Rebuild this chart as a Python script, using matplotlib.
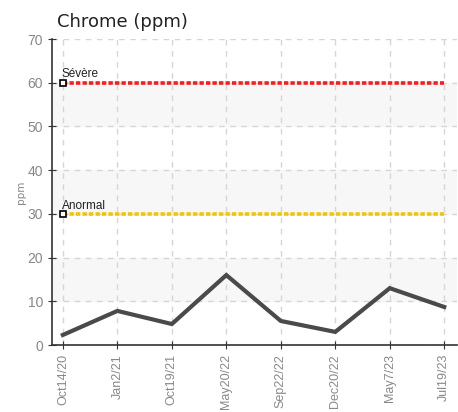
import matplotlib
matplotlib.use("Agg")
import matplotlib.pyplot as plt

dates = ["Oct14/20", "Jan2/21", "Oct19/21", "May20/22", "Sep22/22", "Dec20/22", "May7/23", "Jul19/23"]
chrome = [2.3, 7.8, 4.8, 16.0, 5.5, 3.0, 13.0, 8.7]
severe_level = 60
abnormal_level = 30

narrow = "Liberation Sans"

fig = plt.figure(figsize=(4.58, 4.12), dpi=100)
ax = fig.add_axes([0.1135, 0.1626, 0.885, 0.7427])

x = list(range(len(dates)))
ax.set_xlim(-0.2, len(dates) - 1 + 0.24)
ax.set_ylim(0, 70)

# alternating bands
for lo in range(10, 70, 20):
    ax.axhspan(lo, lo + 10, color="#f7f7f7", zorder=0)

ax.grid(True, color="#d6d6d6", linestyle=(0, (4, 4)), linewidth=1)
ax.set_axisbelow(True)

ax.plot(x, [severe_level] * len(x), color="#ff1a1a", linestyle=(0, (1.2, 0.6)), linewidth=2.6, zorder=3)
ax.plot(x, [abnormal_level] * len(x), color="#f5c400", linestyle=(0, (1.2, 0.6)), linewidth=2.6, zorder=3)
ax.plot([x[0]], [severe_level], marker="s", markersize=4.5, markerfacecolor="white", markeredgecolor="black", markeredgewidth=1.2, zorder=4)
ax.plot([x[0]], [abnormal_level], marker="s", markersize=4.5, markerfacecolor="white", markeredgecolor="black", markeredgewidth=1.2, zorder=4)
ax.text(x[0] - 0.02, severe_level + 1.2, "Sévère", fontsize=8.5, family=narrow, color="#222222")
ax.text(x[0] - 0.02, abnormal_level + 1.2, "Anormal", fontsize=8.5, family=narrow, color="#222222")

ax.plot(x, chrome, color="#4a4a4a", linewidth=3, solid_joinstyle="miter", zorder=5)

ax.set_xticks(x)
ax.set_xticklabels(dates, rotation=90, family=narrow, fontsize=9, color="#888888")
ax.set_yticks(range(0, 71, 10))
ax.set_yticklabels([str(v) for v in range(0, 71, 10)], family=narrow, fontsize=10, color="#888888")
ax.tick_params(axis="both", direction="inout", length=6, color="#333333")
ax.set_ylabel("ppm", fontsize=7.5, color="#888888", labelpad=1)

for s in ["top", "right"]:
    ax.spines[s].set_visible(False)
ax.spines["left"].set_color("#333333")
ax.spines["bottom"].set_color("#333333")
ax.spines["left"].set_linewidth(1.2)
ax.spines["bottom"].set_linewidth(1.2)

fig.text(0.124, 0.935, "Chrome (ppm)", fontsize=13, color="#222222")

fig.savefig("out.png", dpi=100)
